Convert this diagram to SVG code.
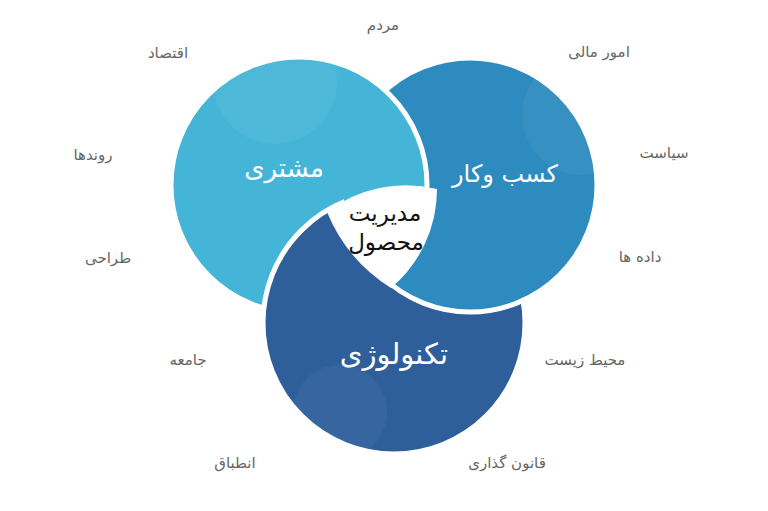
<svg xmlns="http://www.w3.org/2000/svg" width="768" height="511" viewBox="0 0 768 511">
  <style>
    .ring { stroke: #ffffff; stroke-width: 5; }
    .a { fill: #45B5D7; }
    .b { fill: #2D8BBF; }
    .c { fill: #2F5F9B; }
    .hl { fill: #ffffff; fill-opacity: 0.045; }
    .main { font-family: "DejaVu Sans", sans-serif; font-size: 25px; fill: #ffffff; text-anchor: middle; }
    .core { font-family: "DejaVu Sans", sans-serif; font-size: 23px; fill: #111111; text-anchor: middle; }
    .side { font-family: "DejaVu Sans", sans-serif; font-size: 15px; fill: #666666; text-anchor: middle; }
  </style>
  <defs>
    <clipPath id="clipA"><circle cx="299" cy="185" r="128"/></clipPath>
    <clipPath id="clipB"><circle cx="470" cy="185" r="127"/></clipPath>
    <clipPath id="clipC"><circle cx="394" cy="323" r="131"/></clipPath>
    <mask id="maskAnotB" maskUnits="userSpaceOnUse" x="0" y="0" width="768" height="511">
      <circle cx="299" cy="185" r="134" fill="#ffffff"/>
      <circle cx="470" cy="185" r="127" fill="#000000"/>
    </mask>
  </defs>
  <rect x="0" y="0" width="768" height="511" fill="#ffffff"/>

  <g id="connectors"></g>

  <g id="node-technology">
    <circle class="c ring" cx="394" cy="323" r="131"/>
    <circle class="hl" cx="340" cy="412" r="47" clip-path="url(#clipC)"/>
  </g>

  <g id="node-business">
    <circle class="b ring" cx="470" cy="185" r="127"/>
    <circle class="hl" cx="582" cy="115" r="60" clip-path="url(#clipB)"/>
  </g>

  <g id="node-customer">
    <circle class="a ring" cx="299" cy="185" r="128"/>
    <circle class="hl" cx="275" cy="82" r="62" clip-path="url(#clipA)"/>
  </g>

  <g id="node-technology-over-customer" mask="url(#maskAnotB)">
    <circle class="c ring" cx="394" cy="323" r="131"/>
  </g>

  <g id="node-core">
    <path d="M327,212 A131,131 0 0 1 437,189 A129,129 0 0 1 391,288 A163,163 0 0 1 327,212 Z" fill="#ffffff"/>
    <text class="core" x="385" y="221">مدیریت</text>
    <text class="core" x="386" y="250">محصول</text>
  </g>

  <g id="label-customer"><text class="main" x="284" y="177" style="font-size:26px">مشتری</text></g>
  <g id="label-business"><text class="main" x="505" y="182" style="font-size:24px">کسب وکار</text></g>
  <g id="label-technology"><text class="main" x="394" y="364" style="font-size:29px">تکنولوژی</text></g>

  <g id="side-people"><text class="side" x="383" y="30">مردم</text></g>
  <g id="side-economy"><text class="side" x="168" y="58">اقتصاد</text></g>
  <g id="side-finance"><text class="side" x="599" y="57">امور مالی</text></g>
  <g id="side-trends"><text class="side" x="93" y="160">روندها</text></g>
  <g id="side-politics"><text class="side" x="664" y="158">سیاست</text></g>
  <g id="side-design"><text class="side" x="108" y="263">طراحی</text></g>
  <g id="side-data"><text class="side" x="640" y="262">داده ها</text></g>
  <g id="side-society"><text class="side" x="188" y="365">جامعه</text></g>
  <g id="side-environment"><text class="side" x="585" y="365">محیط زیست</text></g>
  <g id="side-compliance"><text class="side" x="235" y="468">انطباق</text></g>
  <g id="side-legislation"><text class="side" x="507" y="468">قانون گذاری</text></g>
</svg>
